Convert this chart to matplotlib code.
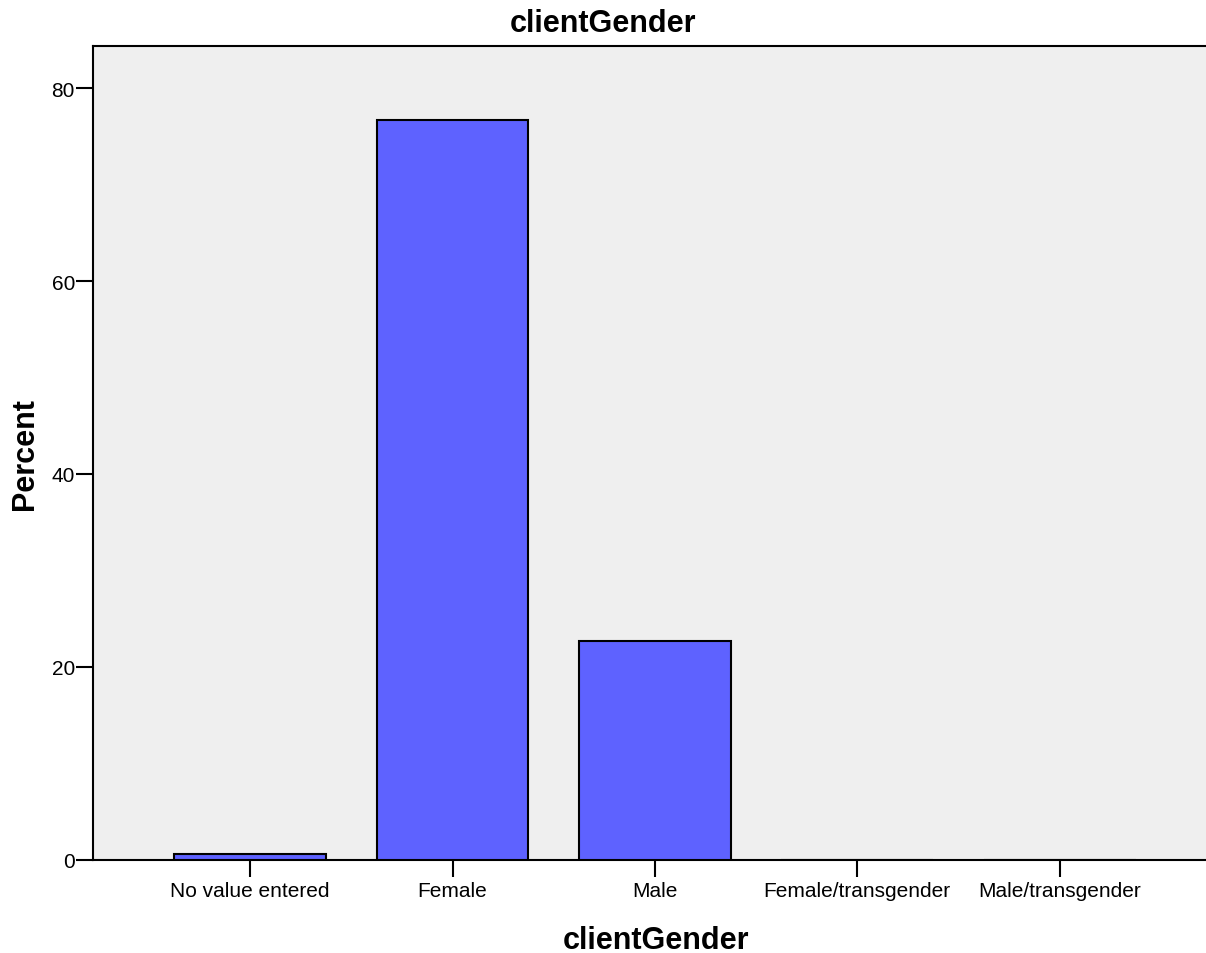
import matplotlib
matplotlib.use("Agg")
import matplotlib.pyplot as plt

# ---- data --------------------------------------------------------------
categories = ["No value entered", "Female", "Male", "Female/transgender", "Male/transgender"]
percent = [0.6, 76.7, 22.7, 0.05, 0.05]
yticks = [0, 20, 40, 60, 80]

plt.rcParams["font.family"] = ["Liberation Sans", "DejaVu Sans"]

fig = plt.figure(figsize=(12.06, 9.54), dpi=100)
ax = fig.add_axes([0.0771, 0.0975, 0.9229 + 0.01, 0.8532])
ax.set_facecolor("#efefef")

x = list(range(len(categories)))
ax.bar(x, percent, width=0.75, color="#5e62ff", edgecolor="black", linewidth=1.5, zorder=3)

ax.set_xlim(-0.777, 4.733 + 0.05)
ax.set_ylim(0, 84.35)
ax.set_xticks(x)
ax.set_xticklabels(categories, fontsize=15)
ax.set_yticks(yticks)
ax.tick_params(axis="y", labelsize=15, length=12, width=1.5, direction="out", pad=1)
ax.tick_params(axis="x", length=12, width=1.5, direction="out", pad=3)

for side in ["left", "top", "bottom"]:
    ax.spines[side].set_linewidth(1.5)
ax.spines["right"].set_visible(False)

# title is centred on the figure, not on the axes
fig.text(0.5, 1 - 24 / 954, "clientGender", fontsize=22, fontweight="bold",
         ha="center", va="center")
ax.set_xlabel("clientGender", fontsize=22, fontweight="bold", labelpad=18)
ax.set_ylabel("Percent", fontsize=22, fontweight="bold", labelpad=8)

fig.savefig("out.png", dpi=100)
